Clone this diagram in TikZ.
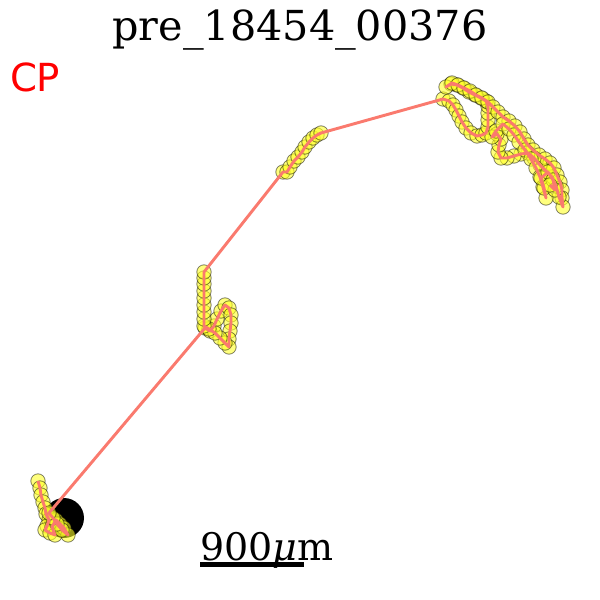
\documentclass[tikz,border=0pt]{standalone}
\usepackage{fontspec}
\newfontfamily\serifdv{DejaVu Serif}
\newfontfamily\sansdv{DejaVu Sans}
\definecolor{trajline}{RGB}{250,122,110}
\definecolor{ptfill}{RGB}{255,255,40}
\begin{document}
\begin{tikzpicture}[x=0.75pt,y=-0.75pt,
  pt/.style={fill=ptfill,fill opacity=0.6,draw=black,draw opacity=0.5,line width=0.6pt},
  trajl/.style={draw=trajline,line width=2.2pt,line join=round},
  lbl/.style={inner sep=0pt,outer sep=0pt}]
\useasboundingbox (0,0) rectangle (600,600);
\def\pts{38/481, 40/488, 41/495, 43/502, 45/508, 46/514, 49/520, 47/526, 45/530, 50/533, 55/535, 52/527, 56/520, 60/524, 64/528, 68/535, 62/530, 57/524, 53/518, 49/513,
205/328, 210/331, 214/326, 217/319, 221/311, 225/305, 229/308, 231/315, 231/323, 230/331, 229/339, 229/347, 225/343, 220/338, 215/333, 209/329, 204/326, 204/319, 204/312, 204/305, 204/298, 204/291, 204/284, 204/278, 204/272,
283/172, 287/172, 290/167, 294/161, 298/157, 302/152, 305/147, 309/142, 313/138, 317/135, 321/133,
443/99, 449/101, 453/105, 456/110, 459/116, 462/122, 466/128, 471/133, 477/136, 482/135, 486/133, 488/127, 488/120, 488/113, 488/106, 486/101, 481/98, 475/95, 469/92, 463/88, 457/85, 451/84, 446/87, 452/83, 458/85, 464/88, 470/91, 476/95, 482/98, 488/102, 493/107, 498/112, 503/117, 509/121, 515/126, 520/132, 524/139, 528/145, 533/150, 539/155, 545/159, 550/163, 554/168, 557/175, 560/182, 562/190, 562/198, 563/207, 559/197, 556/186, 552/177, 546/171, 540/165, 534/158, 528/153, 521/154, 514/156, 507/158, 501/158, 498/152, 499/145, 501/139, 497/134, 492/137, 496/131, 503/124, 509/129, 514/135, 519/142, 525/150, 531/159, 536/168, 540/177, 543/187, 546/198, 544/188, 541/178, 548/172, 553/180, 555/190, 550/185}
% start marker
\fill[black] (64,518) circle[radius=15pt];
% points
\foreach \x/\y in \pts { \path[pt] (\x,\y) circle[radius=5.4pt]; }
% trajectory line
\draw[trajl] (38,481) \foreach \x/\y in \pts { -- (\x,\y) };
% texts
\node[lbl,anchor=base,font=\serifdv\fontsize{31}{32}\selectfont] (title) at (300,40) {pre\_18454\_00376};
\node[lbl,anchor=base west,text=red,font=\sansdv\fontsize{29}{30}\selectfont] (cp) at (10,91) {CP};
\node[lbl,anchor=base west,font=\serifdv\fontsize{28.5}{30}\selectfont] (scale) at (200,560) {900\textit{μ}m};
\fill[black] (200,562) rectangle (304,567);
\end{tikzpicture}
\end{document}
